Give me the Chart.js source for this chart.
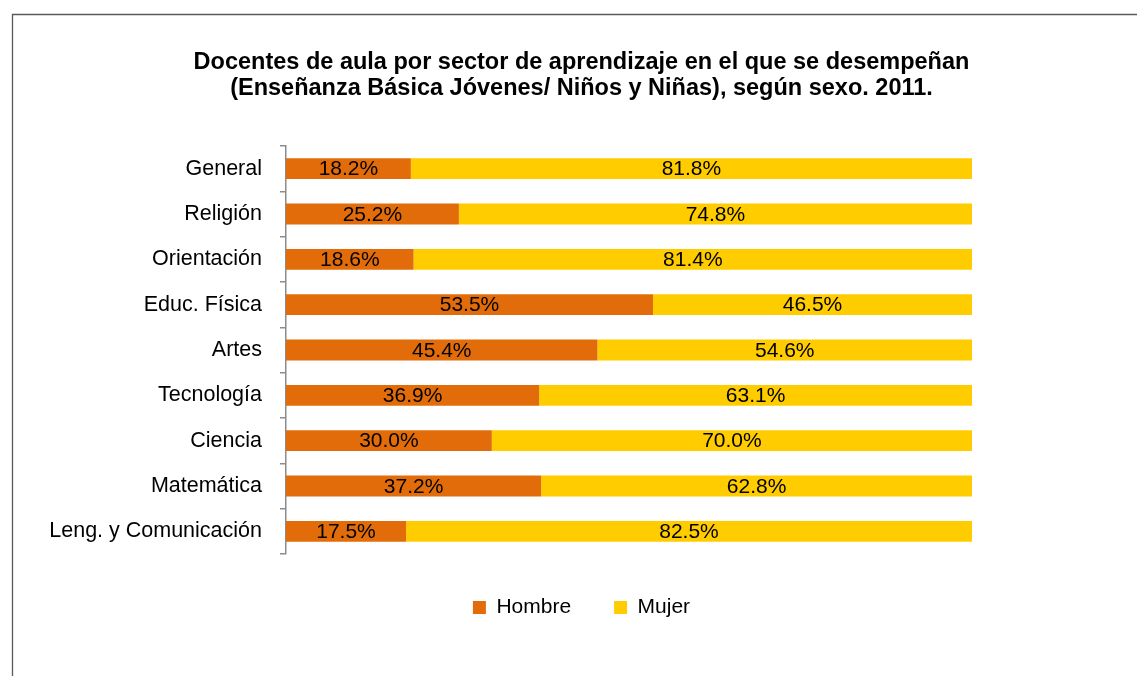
<!DOCTYPE html>
<html>
<head>
<meta charset="utf-8">
<script src="https://cdn.jsdelivr.net/npm/chart.js@4.4.1/dist/chart.umd.min.js"></script>
<style>
  body { margin: 0; background: #fff; }
  #wrap { width: 1137px; height: 676px; }
</style>
</head>
<body>
<div id="wrap"><canvas id="myChart"></canvas></div>
<script>
let categories = ['General', 'Religión', 'Orientación', 'Educ. Física', 'Artes', 'Tecnología', 'Ciencia', 'Matemática', 'Leng. y Comunicación']
let hombre = [18.2, 25.2, 18.6, 53.5, 45.4, 36.9, 30.0, 37.2, 17.5]
let mujer = [81.8, 74.8, 81.4, 46.5, 54.6, 63.1, 70.0, 62.8, 82.5]

let fontFamily = '"Liberation Sans", Arial, sans-serif'

// outer frame of the chart (only top and left edges are visible)
let framePlugin = {
  id: 'frame',
  beforeDraw(chart) {
    let ctx = chart.ctx
    ctx.save()
    ctx.strokeStyle = '#595959'
    ctx.lineWidth = 1.3
    ctx.beginPath()
    ctx.moveTo(12.5, 676)
    ctx.lineTo(12.5, 14.5)
    ctx.lineTo(1137, 14.5)
    ctx.stroke()
    ctx.restore()
  }
}

// percentage labels in the middle of each segment
let valueLabels = {
  id: 'valueLabels',
  afterDatasetsDraw(chart) {
    let ctx = chart.ctx
    ctx.save()
    ctx.font = '21px ' + fontFamily
    ctx.fillStyle = '#000'
    ctx.textAlign = 'center'
    ctx.textBaseline = 'middle'
    chart.data.datasets.forEach((ds, i) => {
      chart.getDatasetMeta(i).data.forEach((bar, j) => {
        let p = bar.getProps(['x', 'y', 'base'], true)
        ctx.fillText(ds.data[j].toFixed(1) + '%', (p.x + p.base) / 2, p.y + 1)
      })
    })
    ctx.restore()
  }
}

Chart.defaults.color = '#000'
Chart.defaults.font.family = fontFamily

let myChart = document.getElementById('myChart').getContext('2d')
let chart = new Chart(myChart, {
  type: 'bar',
  data: {
    labels: categories,
    datasets: [
      {
        label: 'Hombre',
        data: hombre,
        backgroundColor: '#E36C0A',
        barPercentage: 0.46,
        categoryPercentage: 1
      },
      {
        label: 'Mujer',
        data: mujer,
        backgroundColor: '#FFCC00',
        barPercentage: 0.46,
        categoryPercentage: 1
      }
    ]
  },
  options: {
    indexAxis: 'y',
    responsive: true,
    maintainAspectRatio: false,
    animation: false,
    events: [],
    layout: { padding: { left: 26, right: 0, top: 0, bottom: 48 } },
    scales: {
      x: { display: false, stacked: true, min: 0, max: 100 },
      y: {
        stacked: true,
        grid: { drawOnChartArea: false, drawTicks: true, tickLength: 6, color: '#8c8c8c', lineWidth: 1.5 },
        border: { display: true, color: '#8c8c8c', width: 1.5 },
        ticks: { font: { size: 21.5 }, color: '#000', padding: 18 },
        afterFit(scale) { scale.width = 260 }
      },
      y2: {
        type: 'category',
        position: 'right',
        grid: { display: false },
        border: { display: false },
        ticks: { display: false },
        afterFit(scale) { scale.width = 165 }
      }
    },
    plugins: {
      title: {
        display: true,
        text: ['Docentes de aula por sector de aprendizaje en el que se desempeñan', '(Enseñanza Básica Jóvenes/ Niños y Niñas), según sexo. 2011.'],
        font: { size: 23.5, weight: 'bold', lineHeight: '26px' },
        color: '#000',
        padding: { top: 50, bottom: 44 }
      },
      legend: {
        position: 'bottom',
        labels: { boxWidth: 13, boxHeight: 13, padding: 43, font: { size: 21 }, color: '#000' }
      },
      tooltip: { enabled: false }
    }
  },
  plugins: [framePlugin, valueLabels]
})
</script>
</body>
</html>
